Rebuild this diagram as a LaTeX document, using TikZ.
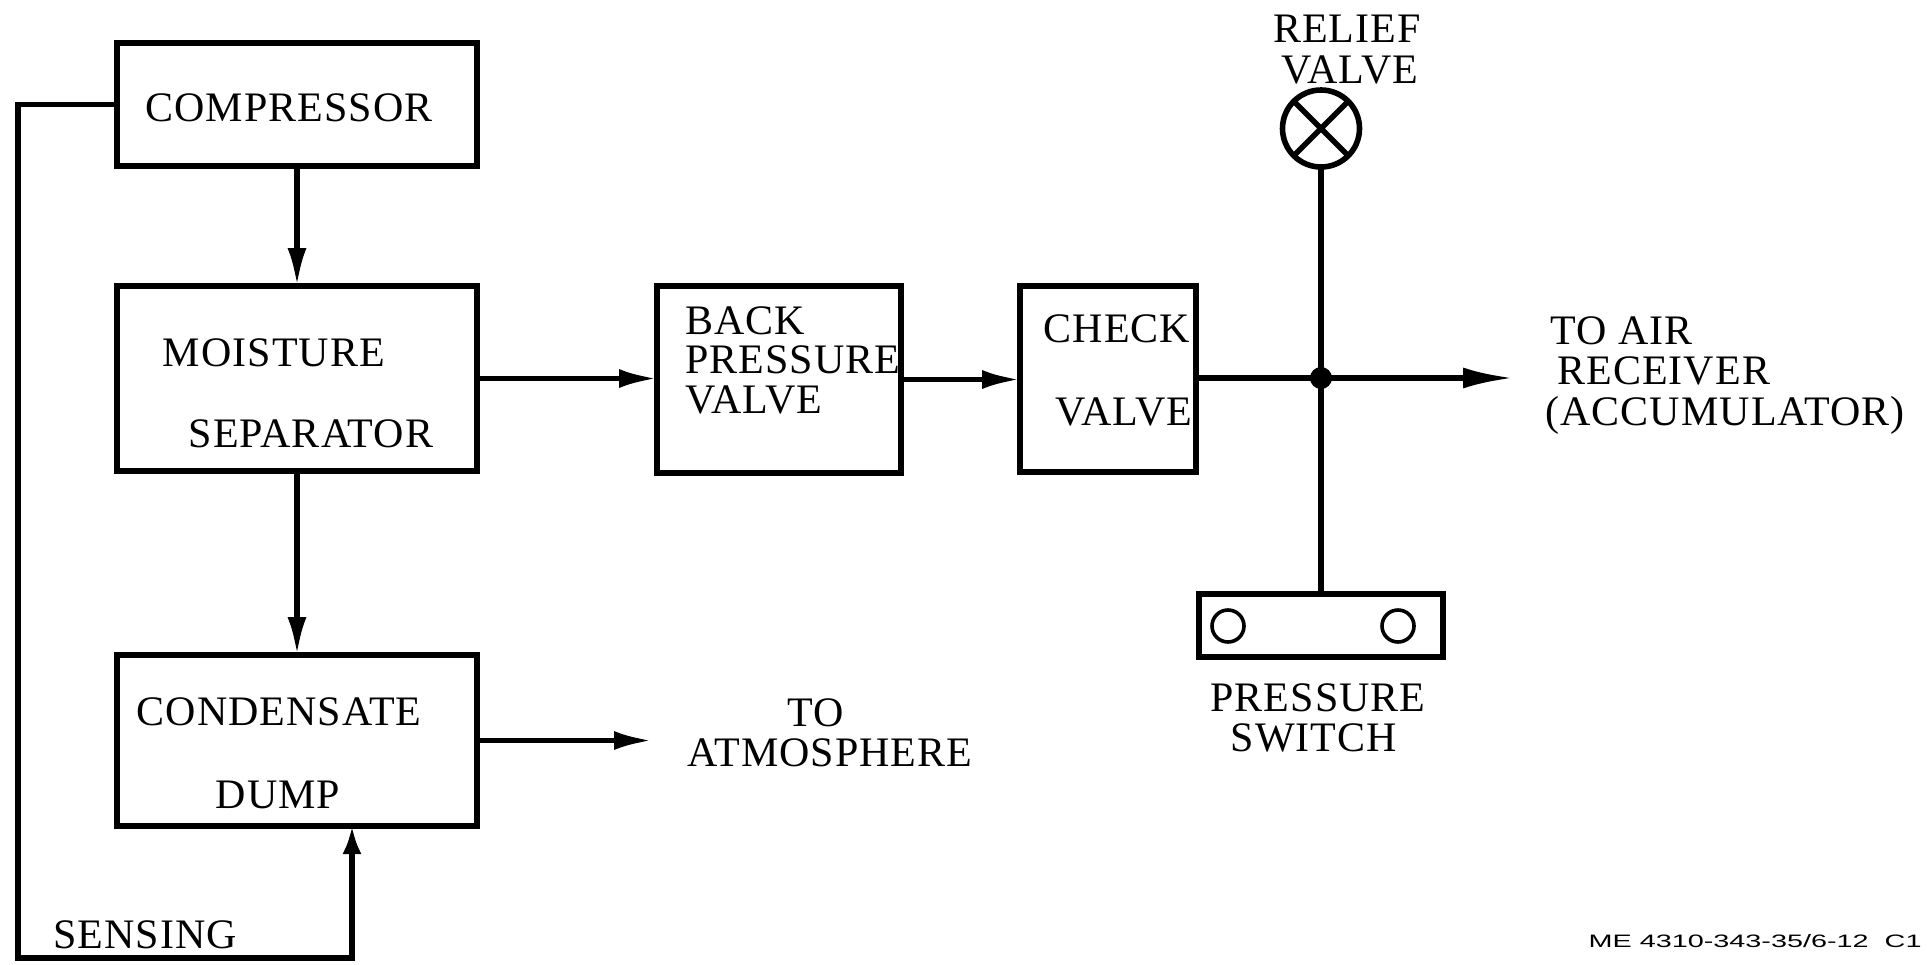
\documentclass[tikz,border=0pt]{standalone}
\usepackage{fontspec}
\usepackage{graphicx}
\setmainfont[LetterSpace=2.5]{Liberation Serif}
\newfontfamily\codefont{Liberation Sans}
\usetikzlibrary{arrows.meta}
\begin{document}
\begin{tikzpicture}[x=0.5pt,y=-0.5pt,
  box/.style={draw, line width=3.4pt, rectangle, inner sep=0pt, outer sep=0pt},
  lab/.style={inner sep=0pt, text height=13.5pt, text depth=0pt, font=\fontsize{21}{25}\selectfont},
  conn/.style={line width=2.6pt},
  arr/.style={conn, -{Latex[length=19pt,width=9.5pt]}},
  airarr/.style={conn, -{Latex[length=25pt,width=10.5pt]}},
  senarr/.style={conn, -{Latex[length=14pt,width=9.5pt]}},
]
\useasboundingbox (0,0) rectangle (1927,964);

% boxes
\node[box, minimum width=180pt, minimum height=61.5pt] (comp) at (297,104.5) {};
\node[box, minimum width=180pt, minimum height=92.5pt] (moist) at (297,378.5) {};
\node[box, minimum width=180pt, minimum height=85.5pt] (cond) at (297,740.5) {};
\node[box, minimum width=122pt, minimum height=93.5pt] (back) at (779,379.5) {};
\node[box, minimum width=88pt, minimum height=93pt] (check) at (1108,379) {};
\node[box, minimum width=122pt, minimum height=31.5pt] (psw) at (1321,625.5) {};
\node[draw, circle, line width=2.8pt, minimum size=38.5pt, inner sep=0pt, outer sep=0pt] (relief) at (1321,128.5) {};
\draw[line width=2.8pt] (relief.45) -- (relief.225) (relief.135) -- (relief.315);
\draw[line width=1.8pt] (1228,626) circle (8pt) (1398,626) circle (8pt);

% coordinates
\coordinate (j) at (1321,378);
\coordinate (airend) at (1513,378);
\coordinate (atm) at (652,740.5);
\coordinate (sl) at (18,958);
\coordinate (sx) at (352,958);

% connectors
\draw[arr] (comp.south) -- (moist.north);
\draw[arr] (moist.south) -- (cond.north);
\draw[arr] (moist.east) -- (moist.east -| back.west);
\draw[arr] (back.east) -- (back.east -| check.west);
\draw[airarr] (check.east |- j) -- (j) -- (airend);
\draw[conn] (relief.south) -- (j) -- (psw.north);
\fill (j) circle (5.5pt);
\draw[arr] (cond.east) -- (atm);
\draw[senarr] (comp.west) -- (comp.west -| sl) -- (sl) -- (sx) -- (sx |- cond.south);

% labels
\node[lab] (tComp) at (289,108) {COMPRESSOR};
\node[lab] (tMoist1) at (274,353) {MOISTURE};
\node[lab] (tMoist2) at (311,434) {SEPARATOR};
\node[lab] (tCond1) at (279,712) {CONDENSATE};
\node[lab] (tCond2) at (278,795) {DUMP};
\node[lab] (tSens) at (145,935) {SENSING};
\node[lab] (tTo) at (816,713) {TO};
\node[lab] (tAtm) at (830,753) {ATMOSPHERE};
\node[lab, anchor=west] (tBack1) at (685,321) {BACK};
\node[lab, anchor=west] (tBack2) at (685,360) {PRESSURE};
\node[lab, anchor=west] (tBack3) at (685,400) {VALVE};
\node[lab] (tCheck1) at (1117,329) {CHECK};
\node[lab] (tCheck2) at (1124,412) {VALVE};
\node[lab] (tRel1) at (1347,29) {RELIEF};
\node[lab] (tRel2) at (1350,70) {VALVE};
\node[lab] (tPsw1) at (1318,698) {PRESSURE};
\node[lab] (tPsw2) at (1314,738) {SWITCH};
\node[lab, anchor=west] (tAir1) at (1550,331) {TO AIR};
\node[lab, anchor=west] (tAir2) at (1557,371) {RECEIVER};
\node[lab, anchor=west] (tAir3) at (1545,412) {(ACCUMULATOR)};
\node[inner sep=0pt, anchor=east, font=\codefont\fontsize{9}{11}\selectfont] (tCode) at (1922,941) {\scalebox{1.6}[1]{ME 4310-343-35/6-12\ \ C1}};
\end{tikzpicture}
\end{document}
